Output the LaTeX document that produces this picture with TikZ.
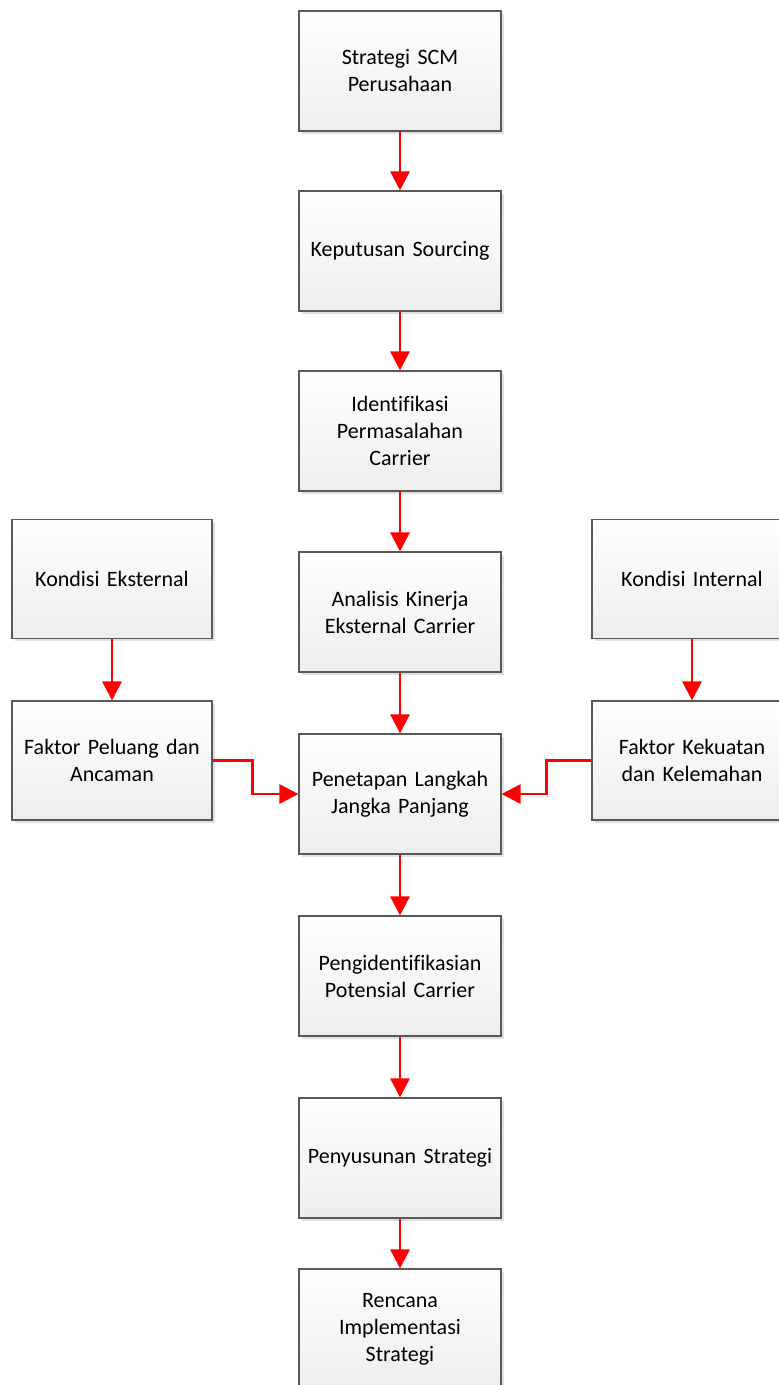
\documentclass[tikz,border=0pt]{standalone}
\usepackage{fontspec}
\setmainfont{Carlito}[Ligatures=NoCommon]
\usetikzlibrary{arrows.meta,shadows}

\newcommand\boxfont{\fontsize{22}{27}\selectfont\spaceskip=0.17em\relax}

\tikzset{
  box/.style={draw=black!65, line width=1.1pt, top color=white, bottom color=black!7,
    minimum width=200pt, minimum height=120pt, align=center, inner sep=4pt,
    text width=194pt, font=\boxfont,
    drop shadow={shadow xshift=2.5pt, shadow yshift=-2.5pt, fill=black!20, opacity=0.6}},
  sidebox/.style={box, minimum width=198pt, minimum height=119pt, text width=192pt},
  flow/.style={draw=red, line width=2.6pt,
    -{Triangle[width=19pt,length=19pt]}}
}

\begin{document}
\begin{tikzpicture}[x=1pt,y=-1pt]
  \useasboundingbox (0,0) rectangle (779,1385);
  \clip (0,0) rectangle (779,1385);

  % main column
  \node[box] (scm)  at (400,71)   {Strategi SCM\\Perusahaan};
  \node[box] (ks)   at (400,251)  {Keputusan Sourcing};
  \node[box] (ipc)  at (400,431)  {Identifikasi\\Permasalahan\\Carrier};
  \node[box] (ake)  at (400,612)  {Analisis Kinerja\\Eksternal Carrier};
  \node[box] (plj)  at (400,794)  {Penetapan Langkah\\Jangka Panjang};
  \node[box] (ppc)  at (400,976)  {Pengidentifikasian\\Potensial Carrier};
  \node[box] (ps)   at (400,1158) {Penyusunan Strategi};
  \node[box] (ris)  at (400,1329) {Rencana\\Implementasi\\Strategi};

  % external side
  \node[sidebox] (ke)  at (112,579)   {Kondisi Eksternal};
  \node[sidebox] (fpa) at (112,760.5) {Faktor Peluang dan\\Ancaman};

  % internal side
  \node[sidebox] (ki)  at (692,579)   {Kondisi Internal};
  \node[sidebox] (fkk) at (692,760.5) {Faktor Kekuatan\\dan Kelemahan};

  % connectors
  \draw[flow] (scm) -- (ks);
  \draw[flow] (ks)  -- (ipc);
  \draw[flow] (ipc) -- (ake);
  \draw[flow] (ake) -- (plj);
  \draw[flow] (plj) -- (ppc);
  \draw[flow] (ppc) -- (ps);
  \draw[flow] (ps)  -- (ris);
  \draw[flow] (ke)  -- (fpa);
  \draw[flow] (ki)  -- (fkk);
  \draw[flow] (fpa.east) -- ++(40,0) |- (plj.west);
  \draw[flow] (fkk.west) -- ++(-45,0) |- (plj.east);
\end{tikzpicture}
\end{document}
